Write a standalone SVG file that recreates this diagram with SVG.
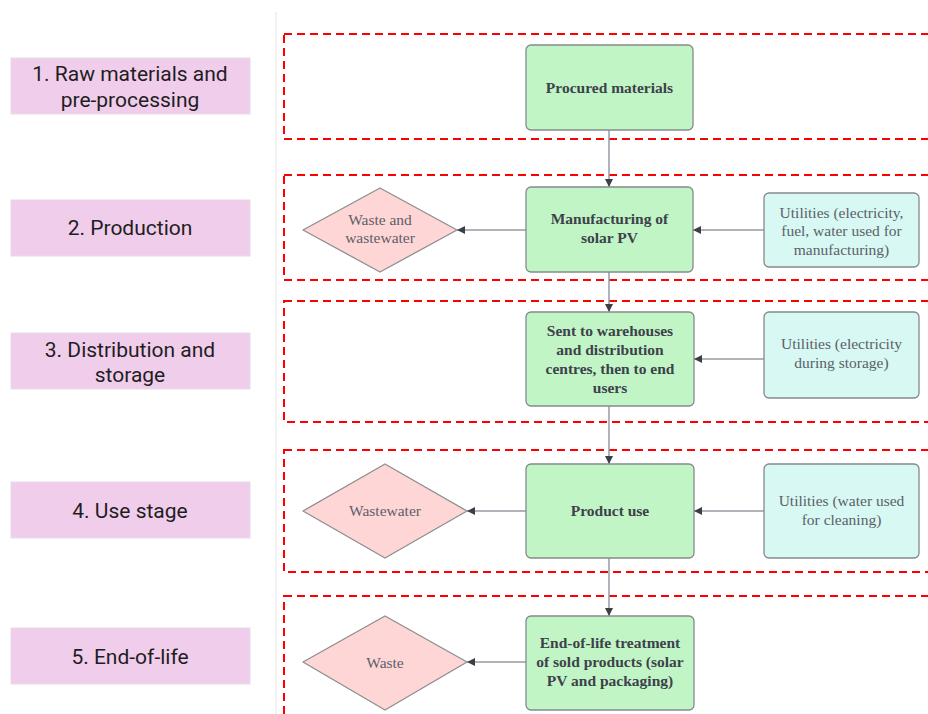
<svg xmlns="http://www.w3.org/2000/svg" width="928" height="714" viewBox="0 0 928 714">
<style>
.lab{fill:#f1cdec;stroke:#e6dbe6;stroke-width:1}
.labt{font-family:Roboto,"Liberation Sans",sans-serif;font-size:21px;fill:#1e1e1e;text-anchor:middle}
.zone{fill:none;stroke:#ff0000;stroke-width:2;stroke-dasharray:8 5}
.proc{fill:#c2f5c6;stroke:#858a8c;stroke-width:1.3}
.util{fill:#d7f8f3;stroke:#858a8c;stroke-width:1.3}
.dia{fill:#ffd6d6;stroke:#8e8e8e;stroke-width:1.3;stroke-linejoin:round}
.bt{font-family:"Liberation Serif","Times New Roman",serif;font-size:15.5px;font-weight:bold;fill:#3d414b;text-anchor:middle}
.rt{font-family:"Liberation Serif","Times New Roman",serif;font-size:15.5px;fill:#5c6068;text-anchor:middle}
.con{stroke:#979aa3;stroke-width:1.5;fill:none;marker-end:url(#ah)}
</style>
<defs>
<marker id="ah" viewBox="0 0 10 10" refX="10" refY="5" markerWidth="8" markerHeight="8" markerUnits="userSpaceOnUse" orient="auto">
<path d="M0,0 L10,5 L0,10 Z" fill="#3a3f48"/>
</marker>
</defs>
<rect width="928" height="714" fill="#ffffff"/>
<line x1="276" y1="12" x2="276" y2="714" stroke="#e4e4e4" stroke-width="1"/>

<g id="stage-labels">
<g id="label1"><rect class="lab" x="11" y="58" width="239" height="56"/><text class="labt" x="130" y="81">1. Raw materials and</text><text class="labt" x="130" y="107">pre-processing</text></g>
<g id="label2"><rect class="lab" x="11" y="200" width="239" height="56"/><text class="labt" x="130" y="235">2. Production</text></g>
<g id="label3"><rect class="lab" x="11" y="333" width="239" height="56"/><text class="labt" x="130" y="357">3. Distribution and</text><text class="labt" x="130" y="382">storage</text></g>
<g id="label4"><rect class="lab" x="11" y="482" width="239" height="56"/><text class="labt" x="130" y="518">4. Use stage</text></g>
<g id="label5"><rect class="lab" x="11" y="628" width="239" height="56"/><text class="labt" x="130" y="664">5. End-of-life</text></g>
</g>

<g id="zones">
<rect class="zone" x="284" y="34" width="660" height="105"/>
<rect class="zone" x="284" y="175" width="660" height="105"/>
<rect class="zone" x="284" y="301" width="660" height="121"/>
<rect class="zone" x="284" y="450" width="660" height="122"/>
<rect class="zone" x="284" y="596" width="660" height="140"/>
</g>

<g id="connectors">
<line class="con" x1="609" y1="130" x2="609" y2="187"/>
<line class="con" x1="609" y1="272" x2="609" y2="312"/>
<line class="con" x1="609" y1="406" x2="609" y2="464"/>
<line class="con" x1="609" y1="558" x2="609" y2="616"/>
<line class="con" x1="526" y1="230" x2="457" y2="230"/>
<line class="con" x1="764" y1="230" x2="693" y2="230"/>
<line class="con" x1="764" y1="359" x2="694" y2="359"/>
<line class="con" x1="526" y1="511" x2="467" y2="511"/>
<line class="con" x1="764" y1="511" x2="694" y2="511"/>
<line class="con" x1="526" y1="662" x2="467" y2="662"/>
</g>

<g id="procured"><rect class="proc" x="526" y="45" width="167" height="85" rx="5"/><text class="bt" x="609.5" y="92.5">Procured materials</text></g>
<g id="manufacturing"><rect class="proc" x="526" y="187" width="167" height="85" rx="5"/><text class="bt" x="609.5" y="223.5">Manufacturing of</text><text class="bt" x="609.5" y="242.5">solar PV</text></g>
<g id="distribution"><rect class="proc" x="526" y="312" width="168" height="94" rx="5"/><text class="bt" x="610" y="336">Sent to warehouses</text><text class="bt" x="610" y="355">and distribution</text><text class="bt" x="610" y="374">centres, then to end</text><text class="bt" x="610" y="393">users</text></g>
<g id="productuse"><rect class="proc" x="526" y="464" width="168" height="94" rx="5"/><text class="bt" x="610" y="515.5">Product use</text></g>
<g id="endoflife"><rect class="proc" x="526" y="616" width="168" height="94" rx="5"/><text class="bt" x="610" y="647.5">End-of-life treatment</text><text class="bt" x="610" y="667">of sold products (solar</text><text class="bt" x="610" y="686">PV and packaging)</text></g>

<g id="waste1"><path class="dia" d="M380,188 L457,230 L380,272 L303,230 Z"/><text class="rt" x="380" y="224.5">Waste and</text><text class="rt" x="380" y="242.5">wastewater</text></g>
<g id="wastewater"><path class="dia" d="M385,464 L467,511 L385,558 L303,511 Z"/><text class="rt" x="385" y="515.5">Wastewater</text></g>
<g id="waste2"><path class="dia" d="M385,616 L467,662 L385,710 L303,662 Z"/><text class="rt" x="385" y="667.5">Waste</text></g>

<g id="util1"><rect class="util" x="764" y="193" width="155" height="74" rx="5"/><text class="rt" x="841.5" y="217.5">Utilities (electricity,</text><text class="rt" x="841.5" y="236">fuel, water used for</text><text class="rt" x="841.5" y="255">manufacturing)</text></g>
<g id="util2"><rect class="util" x="764" y="312" width="155" height="86" rx="5"/><text class="rt" x="841.5" y="348.5">Utilities (electricity</text><text class="rt" x="841.5" y="368">during storage)</text></g>
<g id="util3"><rect class="util" x="764" y="464" width="155" height="94" rx="5"/><text class="rt" x="841.5" y="505.5">Utilities (water used</text><text class="rt" x="841.5" y="525">for cleaning)</text></g>
</svg>
